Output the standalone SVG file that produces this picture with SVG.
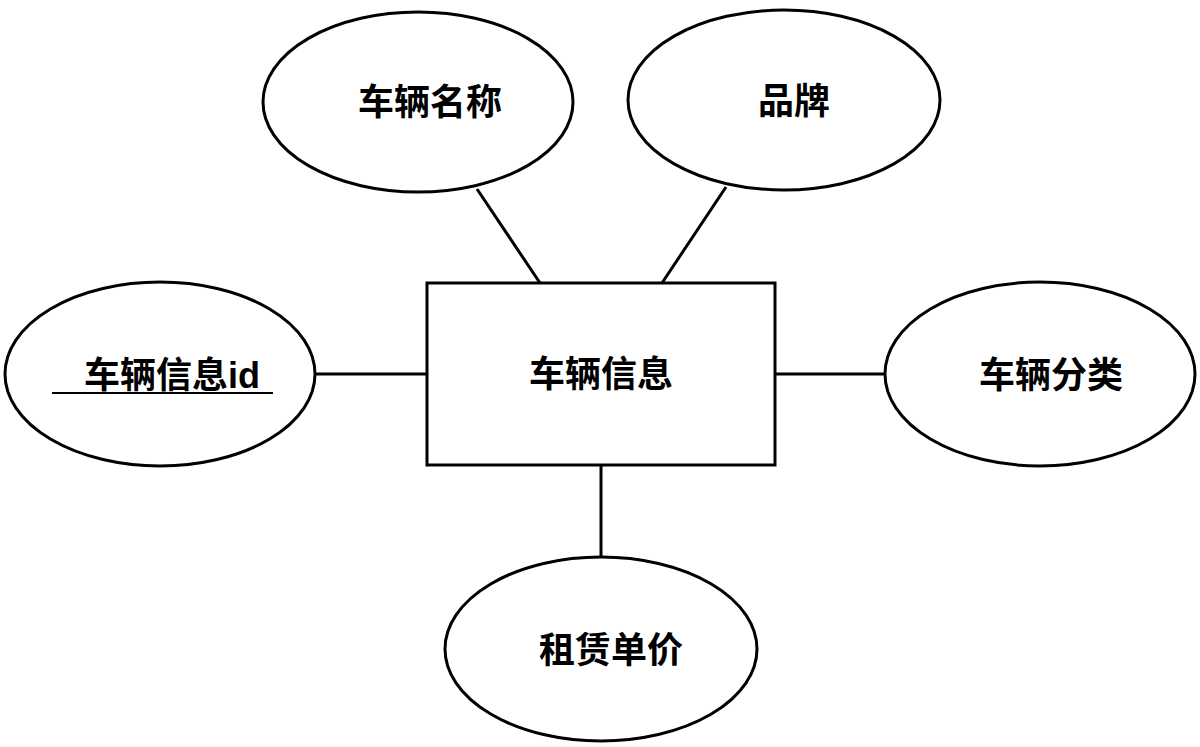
<svg xmlns="http://www.w3.org/2000/svg" width="1200" height="747" viewBox="0 0 1200 747">
<style>
.s{fill:#fff;stroke:#000;stroke-width:3}
.t{font-family:"Liberation Sans","Noto Sans CJK SC",sans-serif;font-size:36px;font-weight:bold;text-anchor:middle;fill:#000}
.c{stroke:#000;stroke-width:3;fill:none}
</style>
<rect width="1200" height="747" fill="#fff"/>
<g id="connectors">
<line class="c" x1="477" y1="189" x2="540" y2="283"/>
<line class="c" x1="726" y1="187" x2="662" y2="283"/>
<line class="c" x1="315" y1="374" x2="427" y2="374"/>
<line class="c" x1="775" y1="374" x2="885" y2="374"/>
<line class="c" x1="601" y1="465" x2="601" y2="557"/>
</g>
<g id="entity"><rect class="s" x="427" y="283" width="348" height="182"/><text class="t" x="601" y="387">车辆信息</text></g>
<g id="name"><ellipse class="s" cx="418" cy="102" rx="155" ry="90"/><text class="t" x="430" y="115">车辆名称</text></g>
<g id="brand"><ellipse class="s" cx="784" cy="100" rx="156" ry="90"/><text class="t" x="794" y="114">品牌</text></g>
<g id="idattr"><ellipse class="s" cx="160" cy="374" rx="155" ry="92"/><text class="t" x="172" y="388">车辆信息id</text><line x1="52" y1="393" x2="273" y2="393" stroke="#000" stroke-width="2"/></g>
<g id="category"><ellipse class="s" cx="1040" cy="374" rx="155" ry="92"/><text class="t" x="1051" y="388">车辆分类</text></g>
<g id="price"><ellipse class="s" cx="601" cy="649" rx="156" ry="92"/><text class="t" x="611" y="663">租赁单价</text></g>
</svg>
